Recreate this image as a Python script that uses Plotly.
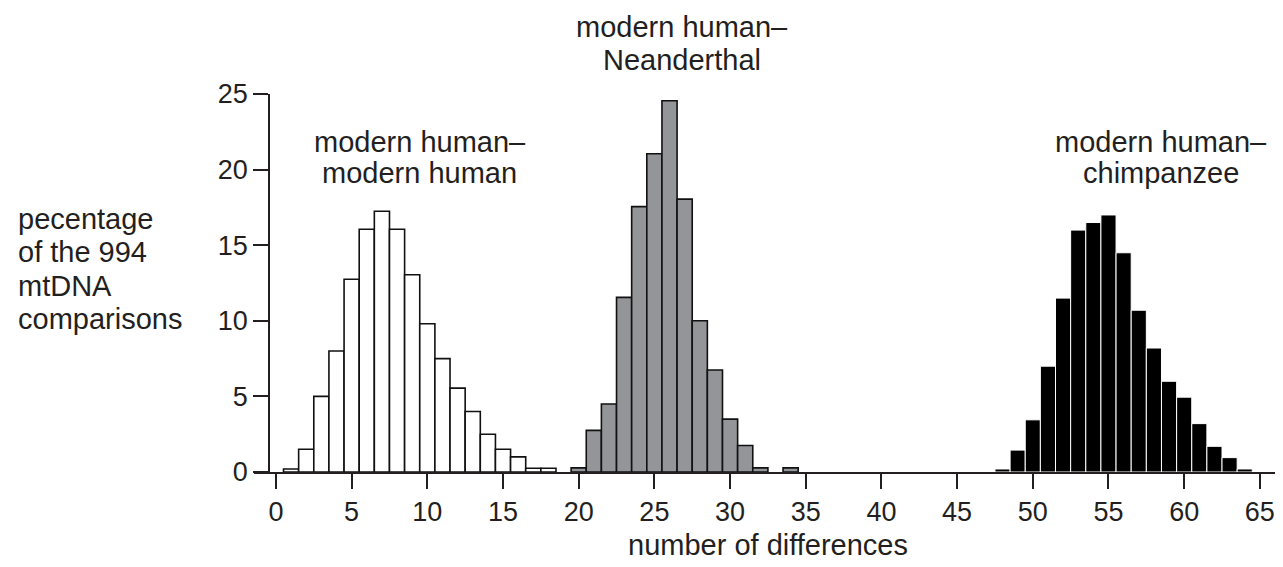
import plotly.graph_objects as go

# ---- data ----
mh_x = list(range(1, 19))
mh_y = [0.2, 1.5, 5.0, 8.0, 12.75, 16.05, 17.25, 16.05, 13.05, 9.8, 7.5, 5.55, 4.0, 2.5, 1.5, 1.0, 0.25, 0.25]

ne_x = [20, 21, 22, 23, 24, 25, 26, 27, 28, 29, 30, 31, 32, 34]
ne_y = [0.27, 2.75, 4.5, 11.55, 17.55, 21.05, 24.55, 18.05, 10.0, 6.75, 3.5, 1.75, 0.27, 0.27]

ch_x = list(range(48, 65))
ch_y = [0.2, 1.45, 3.45, 7.0, 11.5, 16.0, 16.5, 17.0, 14.5, 10.7, 8.2, 6.0, 4.95, 3.2, 1.7, 0.95, 0.2]

x_ticks = list(range(0, 66, 5))
y_ticks = [0, 5, 10, 15, 20, 25]

ytitle_lines = ["pecentage", "of the 994", "mtDNA", "comparisons"]
xtitle = "number of differences"
labels = [
    (9.5, ["modern human–", "modern human"], [134, 165]),
    (26.8, ["modern human–", "Neanderthal"], [19, 52]),
    (58.5, ["modern human–", "chimpanzee"], [134, 165]),
]

# ---- layout geometry ----
W, H = 1283, 567
L, R, T, B = 246, 16, 86, 103
pw = W - L - R
ph = H - T - B
TXT = "#231f20"
FONT = "Liberation Sans, Arial, Helvetica, sans-serif"


def px2paper_x(px):
    return (px - L) / pw


def px2paper_y(py):
    return (H - B - py) / ph


fig = go.Figure()
fig.add_trace(go.Bar(x=mh_x, y=mh_y, width=1, marker=dict(color="white", line=dict(color="#111111", width=1.6))))
fig.add_trace(go.Bar(x=ne_x, y=ne_y, width=1, marker=dict(color="#939598", line=dict(color="#111111", width=1.6))))
fig.add_trace(go.Bar(x=ch_x, y=ch_y, width=1, marker=dict(color="black", line=dict(color="white", width=1))))

annotations = []
for i, line in enumerate(ytitle_lines):
    py = [211, 244, 278, 311][i]
    annotations.append(dict(text=line, xref="paper", yref="paper", x=px2paper_x(8), y=px2paper_y(py),
                            xanchor="left", yanchor="middle", showarrow=False,
                            font=dict(size=29, color=TXT, family=FONT)))
annotations.append(dict(text=xtitle, xref="paper", yref="paper", x=px2paper_x(760), y=px2paper_y(537),
                        xanchor="center", yanchor="middle", showarrow=False,
                        font=dict(size=29, color=TXT, family=FONT)))
for cx, lines, ys in labels:
    for line, py in zip(lines, ys):
        annotations.append(dict(text=line, xref="x", yref="paper", x=cx, y=px2paper_y(py),
                                xanchor="center", yanchor="middle", showarrow=False,
                                font=dict(size=29, color=TXT, family=FONT)))

fig.update_layout(
    width=W, height=H,
    margin=dict(l=L, r=R, t=T, b=B, pad=0),
    paper_bgcolor="white", plot_bgcolor="white",
    barmode="overlay", showlegend=False,
    font=dict(family=FONT, color=TXT, size=27),
    annotations=annotations,
    xaxis=dict(range=[-1.45, 66], tickvals=x_ticks, ticktext=[str(v) for v in x_ticks],
               showline=True, linecolor="#231f20", linewidth=1.5,
               ticks="outside", ticklen=15, tickwidth=1.5, tickcolor="#231f20",
               showgrid=False, zeroline=False, tickfont=dict(size=27, color=TXT, family=FONT)),
    yaxis=dict(range=[0, 25], tickvals=y_ticks, anchor="free", position=px2paper_x(261),
               showline=True, linecolor="#231f20", linewidth=1.5,
               ticks="outside", ticklen=15, tickwidth=1.5, tickcolor="#231f20",
               showgrid=False, zeroline=False, tickfont=dict(size=27, color=TXT, family=FONT)),
)

fig.write_html("out.html")
